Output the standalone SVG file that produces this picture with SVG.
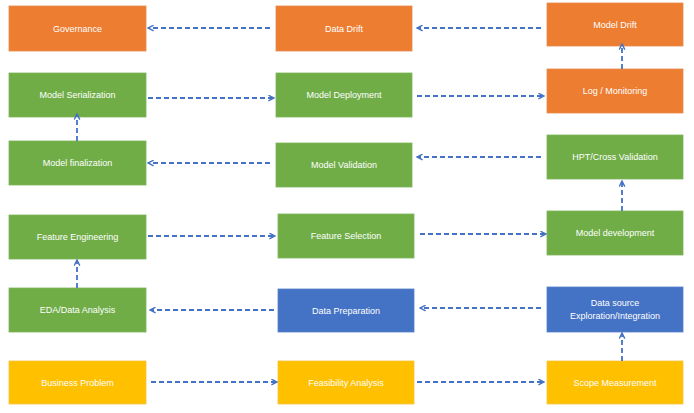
<svg xmlns="http://www.w3.org/2000/svg" width="694" height="413" viewBox="0 0 694 413">
<defs>
<style>
.o{fill:#ED7D31}.g{fill:#70AD47}.b{fill:#4472C4}.y{fill:#FFC000}
rect{stroke-width:0.8}
.o{stroke:#E58A4F}.g{stroke:#7DB55A}.b{stroke:#5580CA}.y{stroke:#F5C43A}
text{font-family:"Liberation Sans",Arial,sans-serif;font-size:9px;fill:#fff;text-anchor:middle;dominant-baseline:central}
.c path{fill:none;stroke:#4472C4;stroke-width:1.8;stroke-dasharray:5,3;marker-end:url(#ah)}
</style>
<marker id="ah" viewBox="0 0 10 10" refX="9" refY="5" markerWidth="7" markerHeight="7" orient="auto" markerUnits="userSpaceOnUse">
<path d="M1,1 L9,5 L1,9" fill="none" stroke="#4472C4" stroke-width="2"/>
</marker>
</defs>
<rect width="694" height="413" fill="#fff"/>
<g id="governance"><rect class="o" x="9" y="6" width="137" height="45"/><text x="77.5" y="28.5">Governance</text></g>
<g id="data-drift"><rect class="o" x="276" y="6" width="136" height="45"/><text x="344" y="28.5">Data Drift</text></g>
<g id="model-drift"><rect class="o" x="547" y="3" width="136" height="43"/><text x="615" y="24.5">Model Drift</text></g>
<g id="model-serialization"><rect class="g" x="9" y="73" width="137" height="44"/><text x="77.5" y="95">Model Serialization</text></g>
<g id="model-deployment"><rect class="g" x="276" y="73" width="136" height="44"/><text x="344" y="95">Model Deployment</text></g>
<g id="log-monitoring"><rect class="o" x="547" y="69" width="136" height="44"/><text x="615" y="91">Log / Monitoring</text></g>
<g id="model-finalization"><rect class="g" x="9" y="141" width="137" height="44"/><text x="77.5" y="163">Model finalization</text></g>
<g id="model-validation"><rect class="g" x="276" y="143" width="136" height="44"/><text x="344" y="165">Model Validation</text></g>
<g id="hpt"><rect class="g" x="547" y="135" width="136" height="44"/><text x="615" y="157">HPT/Cross Validation</text></g>
<g id="feature-engineering"><rect class="g" x="9" y="215" width="137" height="44"/><text x="77.5" y="237">Feature Engineering</text></g>
<g id="feature-selection"><rect class="g" x="278" y="214" width="136" height="44"/><text x="346" y="236">Feature Selection</text></g>
<g id="model-development"><rect class="g" x="547" y="211" width="136" height="44"/><text x="615" y="233">Model development</text></g>
<g id="eda"><rect class="g" x="9" y="288" width="137" height="44"/><text x="77.5" y="310">EDA/Data Analysis</text></g>
<g id="data-preparation"><rect class="b" x="278" y="289" width="136" height="43"/><text x="346" y="310.5">Data Preparation</text></g>
<g id="data-source"><rect class="b" x="547" y="287" width="136" height="45"/><text x="615" y="303">Data source</text><text x="615" y="316">Exploration/Integration</text></g>
<g id="business-problem"><rect class="y" x="9" y="361" width="137" height="43"/><text x="77.5" y="382.5">Business Problem</text></g>
<g id="feasibility"><rect class="y" x="278" y="361" width="136" height="43"/><text x="346" y="382.5">Feasibility Analysis</text></g>
<g id="scope"><rect class="y" x="547" y="361" width="136" height="43"/><text x="615" y="382.5">Scope Measurement</text></g>
<g id="connectors" class="c">
<path d="M270,28 L148,28"/>
<path d="M541,28 L417,28"/>
<path d="M148,98 L274,98"/>
<path d="M417,96 L544,96"/>
<path d="M622,69 L622,44"/>
<path d="M77,141 L77,114"/>
<path d="M270,163 L148,163"/>
<path d="M541,157 L417,157"/>
<path d="M622,211 L622,181"/>
<path d="M148,236 L275,236"/>
<path d="M420,234 L546,234"/>
<path d="M77,288 L77,260"/>
<path d="M274,310 L150,310"/>
<path d="M541,308 L420,308"/>
<path d="M622,361 L622,333"/>
<path d="M151,382 L277,382"/>
<path d="M417,382 L544,382"/>
</g>
</svg>
